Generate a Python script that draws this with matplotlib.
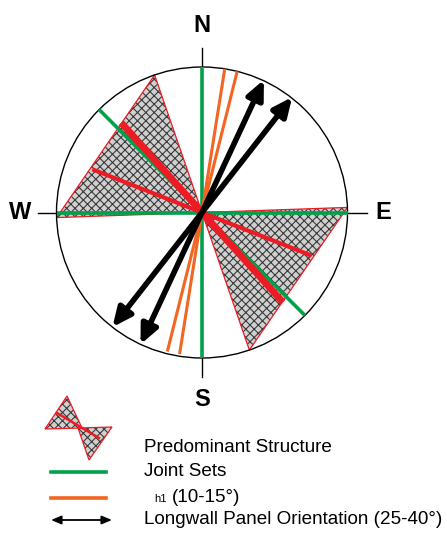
import numpy as np
import matplotlib
matplotlib.use('Agg')
import matplotlib.pyplot as plt
from matplotlib.patches import Polygon, Circle, FancyArrowPatch

plt.rcParams['font.family'] = ['Liberation Sans', 'DejaVu Sans']
plt.rcParams['hatch.linewidth'] = 0.8

# data (azimuths in degrees, clockwise from north)
joint_sets = [0, 90, 135]
h1_dirs = [9, 14]
panel_dirs = [25, 38]
structure_sector = [88, 161]      # shaded wedge, mirrored by 180
structure_thick = [138]
structure_thin = [111.5]
labels = ['N', 'E', 'S', 'W']
legend_labels = ['Predominant Structure', 'Joint Sets', '(10-15°)',
                 'Longwall Panel Orientation (25-40°)']

RED = '#ed1c24'
GREEN = '#00a14b'
ORANGE = '#f26522'

cx, cy, R = 202, 212.5, 145.5


def pt(az, r):
    a = np.radians(az)
    return cx + r * np.sin(a), cy - r * np.cos(a)


def hatched(ax, verts):
    ax.add_patch(Polygon(verts, closed=True, facecolor='#d0d0d0', edgecolor='#3a3a3a',
                         hatch='xxxx', lw=0, zorder=1))
    ax.add_patch(Polygon(verts, closed=True, fill=False, edgecolor=RED, lw=0.9, zorder=1.5))


fig = plt.figure(figsize=(4.47, 5.33), dpi=100)
ax = fig.add_axes([0, 0, 1, 1])
ax.set_xlim(0, 447)
ax.set_ylim(533, 0)
ax.axis('off')

# structure wedges
for off in [0, 180]:
    p1 = pt(structure_sector[0] + off, R)
    p2 = pt(structure_sector[1] + off, R)
    hatched(ax, [(cx, cy), p1, p2])

# circle and ticks
ax.add_patch(Circle((cx, cy), R, fill=False, edgecolor='black', lw=1.0, zorder=2))
for i, lab in enumerate(labels):
    az = i * 90
    x0, y0 = pt(az, R)
    x1, y1 = pt(az, R + 19)
    ax.plot([x0, x1], [y0, y1], color='black', lw=1.0, zorder=2)
    xt, yt = pt(az, R + 41 if az % 180 == 0 else R + 36)
    ax.text(xt, yt, lab, fontsize=17, fontweight='bold', ha='center', va='center')

# joint sets
for az in joint_sets:
    x0, y0 = pt(az, R)
    x1, y1 = pt(az + 180, R)
    ax.plot([x0, x1], [y0, y1], color=GREEN, lw=2.6, zorder=3, solid_capstyle='butt')

# h1
for az in h1_dirs:
    x0, y0 = pt(az, R)
    x1, y1 = pt(az + 180, R * 0.985)
    ax.plot([x0, x1], [y0, y1], color=ORANGE, lw=2.2, zorder=4, solid_capstyle='butt')

# predominant structure lines
for az in structure_thick:
    for off in [0, 180]:
        x1, y1 = pt(az + off, R * 0.83)
        ax.plot([cx, x1], [cy, y1], color=RED, lw=5, zorder=5, solid_capstyle='butt')
for az in structure_thin:
    for off in [0, 180]:
        x1, y1 = pt(az + off, R * 0.81)
        ax.plot([cx, x1], [cy, y1], color=RED, lw=3, zorder=5, solid_capstyle='butt')

# longwall panels
for az in panel_dirs:
    p0 = pt(az, R + 1)
    p1 = pt(az + 180, R)
    ax.add_patch(FancyArrowPatch(p1, p0, arrowstyle='<|-|>,head_length=7,head_width=3.2',
                                 mutation_scale=1.6, color='black', lw=4.0,
                                 shrinkA=0, shrinkB=0, zorder=6))

# legend
hatched(ax, [(67, 396), (45, 429), (82, 428)])
hatched(ax, [(78, 428), (112, 427), (89, 460)])
ax.plot([57, 99], [413, 438], color=RED, lw=1.8, zorder=2)

ax.plot([51, 106], [472, 472], color=GREEN, lw=2.6)
ax.plot([51, 106], [498, 498], color=ORANGE, lw=2.6)
ax.add_patch(FancyArrowPatch((51, 520), (112, 520), arrowstyle='<|-|>,head_length=6,head_width=2.5',
                             mutation_scale=1.0, color='black', lw=1.3, shrinkA=0, shrinkB=0))

fs = 13.6
ax.text(144, 447, legend_labels[0], fontsize=fs, va='center', ha='left')
ax.text(144, 471, legend_labels[1], fontsize=fs, va='center', ha='left')
ax.text(154, 499, 'h1', fontsize=8, va='center', ha='left')
ax.text(172, 497, legend_labels[2], fontsize=fs, va='center', ha='left')
ax.text(144, 520, legend_labels[3], fontsize=fs, va='center', ha='left')

fig.savefig('out.png', dpi=100)
